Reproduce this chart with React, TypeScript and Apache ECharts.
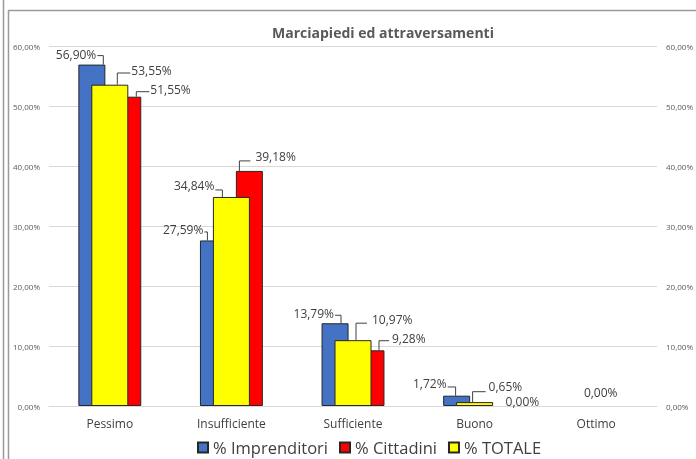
import React, { useEffect, useRef } from "react";
import * as echarts from "echarts";

const categories = ["Pessimo", "Insufficiente", "Sufficiente", "Buono", "Ottimo"];
const imprenditori = [56.9, 27.59, 13.79, 1.72, 0.0];
const cittadini = [51.55, 39.18, 9.28, 0.0, 0.0];
const totale = [53.55, 34.84, 10.97, 0.65, 0.0];
const yTicks = [0, 10, 20, 30, 40, 50, 60];

const seriesNames = ["% Imprenditori", "% Cittadini", "% TOTALE"];
const seriesColors = ["#4472C4", "#FF0000", "#FFFF00"];

// label placement (pixels relative to bar top / leader), kept apart from data
type Lay = { vx?: number; hy?: number; hx?: number; ty?: number; gap?: number; line?: boolean; tx?: number; align?: string } | null;
const BAR_OFFSETS = [-18, 18, 0];
const LAYOUT: Lay[][] = [
  [
    { vx: 11.5, hy: -9, hx: -6, ty: -1, gap: 1 },
    { vx: -6, hy: -8.5, hx: -3, ty: -2, gap: 1 },
    { vx: 6, hy: -8, hx: -6, ty: -2, gap: 1 },
    { vx: -1, hy: -8.7, hx: -8, ty: -3, gap: 1 },
    null,
  ],
  [
    { vx: 8.5, hy: -5, hx: 13, ty: -2.7, gap: 1 },
    { vx: -10, hy: -10, hx: 11, ty: -4.7, gap: 5 },
    { vx: 8, hy: -9.6, hx: 10, ty: -2.7, gap: 3 },
    { line: false, tx: 13, ty: -4.5, align: "left" },
    null,
  ],
  [
    { vx: 7.5, hy: -11.7, hx: 13, ty: -3, gap: 1 },
    { vx: -9, hy: -7, hx: -7, ty: -4, gap: 1 },
    { vx: 3, hy: -17, hx: 11, ty: -4, gap: 5 },
    { vx: -2, hy: -10.4, hx: 13, ty: -5.7, gap: 3 },
    { line: false, tx: 4.5, ty: -14, align: "center" },
  ],
];

const fmt = (v: number) => v.toFixed(2).replace(".", ",") + "%";
const FONT = "'Open Sans', 'Noto Sans', sans-serif";

export default function App() {
  const ref = useRef<HTMLDivElement>(null);
  useEffect(() => {
    if (!ref.current) return;
    const chart = echarts.init(ref.current, undefined, { renderer: "svg" });
    const values = [imprenditori, cittadini, totale];
    const labelData: number[][] = [];
    const labelLay: Lay[] = [];
    for (let s = 0; s < 3; s++) {
      for (let c = 0; c < categories.length; c++) {
        const l = LAYOUT[s][c];
        if (!l) continue;
        labelData.push([c, values[s][c], s]);
        labelLay.push(l);
      }
    }
    const barStyle = (i: number) => ({ color: seriesColors[i], borderColor: "#262626", borderWidth: 1 });
    const barData = (arr: number[]) =>
      arr.map((v) => (v === 0 ? { value: v, itemStyle: { borderWidth: 0, opacity: 0 } } : v));
    chart.setOption({
      animation: false,
      textStyle: { fontFamily: FONT },
      title: {
        text: "Marciapiedi ed attraversamenti",
        left: 378,
        top: 20,
        textAlign: "center",
        textStyle: { fontSize: 14, fontWeight: "bold", color: "#595959", fontFamily: FONT },
      },
      legend: {
        data: seriesNames,
        left: 192,
        top: 434,
        icon: "rect",
        itemWidth: 10,
        itemHeight: 10,
        itemGap: 11,
        textStyle: { fontSize: 16.5, color: "#404040", fontFamily: FONT },
      },
      grid: { left: 49, right: 33, top: 46, bottom: 53 },
      xAxis: [
        {
          type: "category",
          data: categories,
          axisLine: { show: true, lineStyle: { color: "#d9d9d9" } },
          axisTick: { show: false },
          axisLabel: { fontSize: 12, color: "#404040", margin: 11, fontFamily: FONT },
        },
        { type: "category", data: categories, show: false },
      ],
      yAxis: [
        {
          type: "value",
          min: yTicks[0],
          max: yTicks[yTicks.length - 1],
          interval: 10,
          axisLabel: { formatter: fmt, fontSize: 8, color: "#595959", margin: 9, fontFamily: FONT },
          splitLine: { lineStyle: { color: "#d9d9d9" } },
          axisLine: { show: false },
          axisTick: { show: false },
        },
        {
          type: "value",
          position: "right",
          min: yTicks[0],
          max: yTicks[yTicks.length - 1],
          interval: 10,
          axisLabel: { formatter: fmt, fontSize: 8, color: "#595959", margin: 9, fontFamily: FONT },
          splitLine: { show: false },
          axisLine: { show: false },
          axisTick: { show: false },
        },
      ],
      series: [
        { name: seriesNames[0], type: "bar", xAxisIndex: 0, data: barData(imprenditori), barWidth: 27, barGap: "33%", itemStyle: barStyle(0), z: 2 },
        { name: seriesNames[1], type: "bar", xAxisIndex: 0, data: barData(cittadini), barWidth: 27, barGap: "33%", itemStyle: barStyle(1), z: 2 },
        { name: seriesNames[2], type: "bar", xAxisIndex: 1, data: barData(totale), barWidth: 37, itemStyle: barStyle(2), z: 3 },
        {
          type: "custom",
          xAxisIndex: 0,
          yAxisIndex: 0,
          z: 10,
          silent: true,
          data: labelData,
          renderItem: (params: any, api: any) => {
            const c = api.value(0);
            const v = api.value(1);
            const s = api.value(2);
            const l = labelLay[params.dataIndex] as any;
            const p = api.coord([c, v]);
            const bx = p[0] + BAR_OFFSETS[s];
            const by = p[1];
            const textStyle = { fill: "#404040", font: `12px ${FONT}` };
            if (l.line === false) {
              return {
                type: "text",
                style: { ...textStyle, text: fmt(v), x: bx + l.tx, y: by + l.ty, align: l.align, verticalAlign: "middle" },
              };
            }
            const vxp = bx + l.vx;
            const ey = by + l.hy;
            const ex = vxp + l.hx;
            const right = l.hx > 0;
            return {
              type: "group",
              children: [
                {
                  type: "polyline",
                  shape: { points: [[vxp, by], [vxp, ey], [ex, ey]] },
                  style: { stroke: "#404040", lineWidth: 1, fill: "none" },
                },
                {
                  type: "text",
                  style: {
                    ...textStyle,
                    text: fmt(v),
                    x: right ? ex + l.gap : ex - l.gap,
                    y: ey + l.ty,
                    align: right ? "left" : "right",
                    verticalAlign: "middle",
                  },
                },
              ],
            };
          },
        },
      ],
      graphic: [
        { type: "line", shape: { x1: 3.5, y1: 0, x2: 3.5, y2: 459 }, style: { stroke: "#9a9a9a", lineWidth: 1.5 } },
        { type: "line", shape: { x1: 8.5, y1: 10, x2: 8.5, y2: 459 }, style: { stroke: "#9a9a9a", lineWidth: 1.5 } },
        { type: "line", shape: { x1: 8, y1: 10.5, x2: 696, y2: 10.5 }, style: { stroke: "#9a9a9a", lineWidth: 1.5 } },
      ],
    });
    return () => chart.dispose();
  }, []);
  return <div ref={ref} style={{ position: "fixed", left: 0, top: 0, width: 696, height: 459 }} />;
}
